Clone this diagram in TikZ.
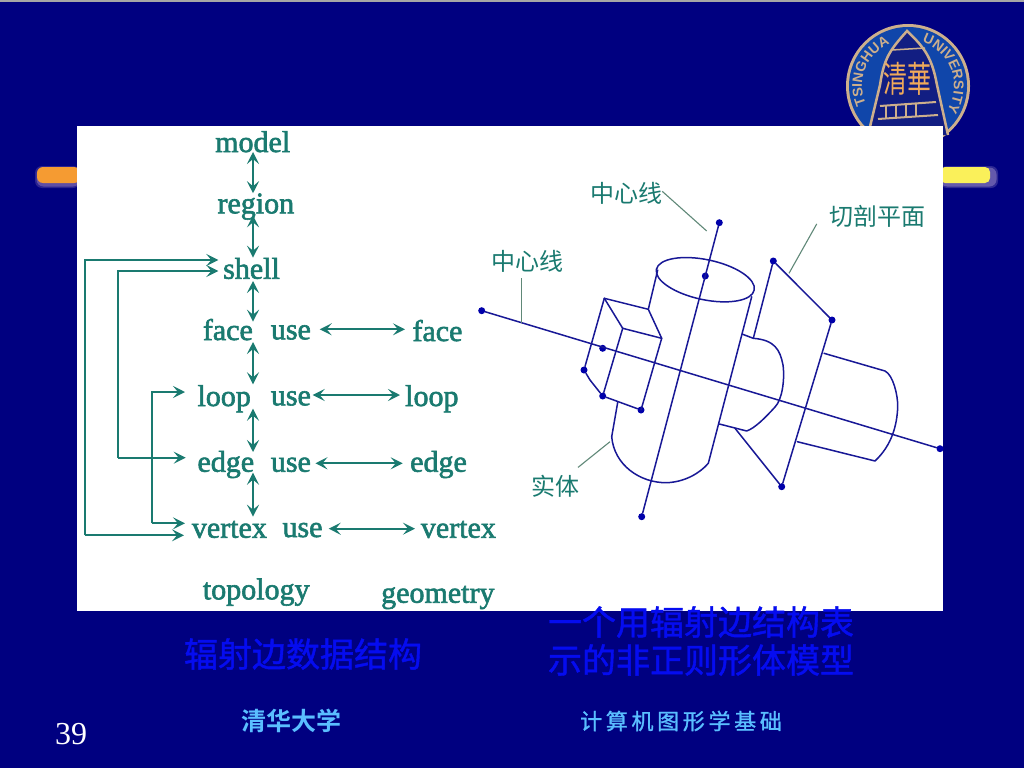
\documentclass[tikz,border=0pt]{standalone}
\usepackage{fontspec}
\usetikzlibrary{arrows.meta,calc,decorations.text}
\setmainfont{Liberation Serif}
\setsansfont{Liberation Sans}
\newfontfamily\lab[FakeBold=2]{Liberation Serif}
\newfontfamily\cjk{Noto Sans CJK SC}
\newfontfamily\cjkm[FakeBold=1.2]{Noto Sans CJK SC}
\newfontfamily\cjkb{Noto Sans CJK SC Bold}
\definecolor{navy}{RGB}{0,0,128}
\definecolor{teal1}{RGB}{26,122,112}
\definecolor{lead}{RGB}{96,136,120}
\definecolor{wire}{RGB}{24,24,150}
\definecolor{dotc}{RGB}{0,0,170}
\definecolor{capblue}{RGB}{5,12,240}
\definecolor{foot}{RGB}{90,190,255}
\definecolor{sealblue}{RGB}{16,70,170}
\definecolor{sealin}{RGB}{18,30,130}
\definecolor{sealtan}{RGB}{205,175,140}
\definecolor{sealor}{RGB}{240,170,90}
\tikzset{
 x=1pt,y=-1pt,
 word/.style={font=\fontsize{30}{30}\selectfont\lab,text=teal1,inner sep=0pt,anchor=base west},
 note/.style={font=\fontsize{24}{24}\selectfont\cjk,text=teal1,inner sep=0pt},
 captxt/.style={font=\fontsize{34}{34}\selectfont\cjkm,text=capblue,inner sep=0pt},
 dbl/.style={teal1,line width=1.9pt,{Stealth[length=12pt,width=12pt,inset=5pt]}-{Stealth[length=12pt,width=12pt,inset=5pt]}},
 one/.style={teal1,line width=1.9pt,-{Stealth[length=12pt,width=12pt,inset=5pt]}},
 wireline/.style={wire,line width=1.5pt,line cap=round,line join=round},
 leadline/.style={lead,line width=1.1pt},
 pin/.style={circle,fill=dotc,minimum size=7pt,inner sep=0pt},
 sealtext/.style={decorate,decoration={text along path,text align=center,text={|\fontsize{14}{14}\selectfont\sffamily\bfseries\color{sealtan}|#1}}},
}
\begin{document}
\begin{tikzpicture}
\useasboundingbox (0,0) rectangle (1024,768);
\fill[navy] (0,0) rectangle (1024,768);
\fill[gray!70] (0,0) rectangle (1024,2.5);
% bars
\foreach \o/\g in {0.2/0,0.3/-1.5}{
 \fill[rounded corners=7pt,fill=violet!30!white,opacity=\o] (35-\g,166-\g) rectangle (80,188+\g);
 \fill[rounded corners=7pt,fill=violet!20!white,opacity=\o] (940,166-\g) rectangle (998+\g,188+\g);
}
\fill[rounded corners=6pt,fill={rgb,255:red,245;green,155;blue,50}] (37,167) rectangle (80,183);
\fill[rounded corners=5pt,fill={rgb,255:red,250;green,240;blue,90}] (940,167) rectangle (990,183);
% seal
\fill[sealtan] (908,86) circle[radius=62];
\fill[sealblue] (908,86) circle[radius=59];
\begin{scope}[shift={(908,86)},y=1pt]
\path[postaction={sealtext=TSINGHUA}] (205:46) arc[start angle=205,end angle=112,radius=46];
\path[postaction={sealtext=UNIVERSITY}] (68:46) arc[start angle=68,end angle=-28,radius=46];
\end{scope}
\draw[sealtan,line width=2.5pt,fill=sealin] (868,135) -- (880,85) .. controls (884,58) and (890,50) .. (907,31) .. controls (925,48) and (932,58) .. (937,85) -- (948,135);
\node[inner sep=0pt,text=sealor,font=\fontsize{24}{24}\selectfont\cjk,yscale=1.5,transform shape] (seal) at (907,79) {清華};
\draw[sealtan,line width=2pt] (880,106) -- (936,102) (878,119) -- (938,115);
\draw[sealtan,line width=2pt] (886,106) -- (886,118) (896,105) -- (896,117) (906,105) -- (906,117) (916,104) -- (916,116);
\draw[sealtan,line width=1.5pt] (892,50) -- (925,48);
% white panel
\fill[white] (77,126) rectangle (943,611);
% left diagram
\node[word] (model) at (215,152) {model};
\node[word] (region) at (217.3,213.3) {region};
\node[word] (shell) at (223,278.7) {shell};
\node[word] (face) at (202.7,340) {face};
\node[word] (fuse) at (270.7,339.3) {use};
\node[word] (fgeo) at (412.3,341) {face};
\node[word] (loop) at (197.3,406) {loop};
\node[word] (luse) at (270.7,405.3) {use};
\node[word] (lgeo) at (405,406) {loop};
\node[word] (edge) at (197.3,471.7) {edge};
\node[word] (euse) at (270.7,471.7) {use};
\node[word] (egeo) at (410,471.7) {edge};
\node[word] (vertex) at (191.7,537.7) {vertex};
\node[word] (vuse) at (282.3,537) {use};
\node[word] (vgeo) at (420.7,537.7) {vertex};
\node[word] (topo) at (202.7,599.3) {topology};
\node[word] (geom) at (381,602.7) {geometry};
\coordinate (spine) at (253,0);
\draw[dbl] (model.base -| spine) -- (region.north -| spine);
\draw[dbl] ([shift={(0,2)}]region.base -| spine) -- ([shift={(0,-21)}]shell.base -| spine);
\draw[dbl] ([shift={(0,2.3)}]shell.base -| spine) -- ([shift={(0,-18.3)}]face.base -| spine);
\draw[dbl] ([shift={(0,2)}]face.base -| spine) -- ([shift={(0,-21.7)}]loop.base -| spine);
\draw[dbl] ([shift={(0,2.7)}]loop.base -| spine) -- ([shift={(0,-19.7)}]edge.base -| spine);
\draw[dbl] ([shift={(0,1)}]edge.base -| spine) -- ([shift={(0,-21)}]vertex.base -| spine);
\draw[dbl] ([shift={(8.6,-10)}]fuse.base east) -- ([shift={(-7.3,-11.7)}]fgeo.base west);
\draw[dbl] ([shift={(1.6,-10.3)}]luse.base east) -- ([shift={(-5,-11)}]lgeo.base west);
\draw[dbl] ([shift={(4.3,-8.4)}]euse.base east) -- ([shift={(-7.3,-8.4)}]egeo.base west);
\draw[dbl] ([shift={(6,-8.3)}]vuse.base east) -- ([shift={(-5.7,-9)}]vgeo.base west);
\coordinate (railA) at (85,0);
\coordinate (railB) at (117.7,0);
\coordinate (railC) at (151.7,0);
\coordinate (sA) at ([shift={(-4.7,-18.7)}]shell.base west);
\coordinate (sB) at ([shift={(-4.7,-7.7)}]shell.base west);
\coordinate (vA) at ([shift={(-7.7,-2.4)}]vertex.base west);
\coordinate (vC) at ([shift={(-6.7,-14.4)}]vertex.base west);
\coordinate (eB) at ([shift={(-11.6,-14)}]edge.base west);
\coordinate (lC) at ([shift={(-12.3,-14)}]loop.base west);
\draw[one] (railA |- vA) -- (vA);
\draw[one] (railA |- vA) -- (railA |- sA) -- (sA);
\draw[one] (railB |- eB) -- (eB);
\draw[one] (railB |- eB) -- (railB |- sB) -- (sB);
\draw[one] (railC |- vC) -- (vC);
\draw[one] (railC |- vC) -- (railC |- lC) -- (lC);
% right diagram: pins
\node[pin] (a1) at (481.7,310.7) {};
\node[pin] (a2) at (940,448.7) {};
\node[pin] (b1) at (719.3,222.7) {};
\node[pin] (b2) at (641.7,516.7) {};
\node[pin] (b3) at (705.3,276) {};
\node[pin] (c1) at (602.7,348.3) {};
\node[pin] (c2) at (584,370) {};
\node[pin] (c3) at (602.7,396) {};
\node[pin] (c4) at (641,410) {};
\node[pin] (d1) at (773.3,261) {};
\node[pin] (d2) at (832,320) {};
\node[pin] (d3) at (781.7,486.7) {};
\coordinate (c0) at (604.3,298.3);
\coordinate (c5) at (622.7,328.3);
\draw[wireline] (a1) -- (a2);
\draw[wireline] (b1) -- (b2);
% top ellipse
\draw[wireline] (705.3,279.7) ellipse[x radius=50,y radius=20,rotate=-12];
% cylinder
\draw[wireline] (657.7,270) -- (648.3,309.3) -- (661.7,338.3) -- (641,410);
\draw[wireline] (c0) -- (648.3,309.3);
\draw[wireline] (c0) -- (c2);
\draw[wireline] (c0) -- (c5);
\draw[wireline] (c5) -- (661.7,338.3);
\draw[wireline] (c5) -- (c3);
\draw[wireline] (c2) -- (590,380) -- (c3);
\draw[wireline] (c3) -- (c4);
\draw[wireline] (617.7,402.3) -- (611.7,436.7) .. controls (614,465) and (640,483) .. (666.7,482.7) .. controls (685,482) and (700,473) .. (708.3,463.3) -- (751.7,296.7);
% plane
\draw[wireline] (d1) -- (753.3,338.3);
\draw[wireline] (d1) -- (d2);
\draw[wireline] (d2) -- (d3);
\draw[wireline] (d3) -- (735,428.3);
% bump behind plane
\draw[wireline] (742.7,334.3) -- (753.3,338.3) .. controls (775,340) and (780,350) .. (783,365) .. controls (785,380) and (782,400) .. (775,407) .. controls (765,418) and (755,428) .. (746.7,431) -- (719.3,424);
% right bump
\draw[wireline] (824,353.3) -- (885,371) .. controls (893,375) and (898,395) .. (897.7,407) .. controls (897,425) and (892,445) .. (875,461) -- (797.3,441.7);
% leaders and notes
\node[note] (n1) at (626,193.3) {中心线};
\node[note] (n2) at (527,261) {中心线};
\node[note] (n3) at (877.3,216.7) {切剖平面};
\node[note] (n4) at (555,486.7) {实体};
\coordinate (l1) at (706.7,231);
\coordinate (l2) at (521.7,323);
\coordinate (l3) at (789,273.3);
\coordinate (l4) at (610,441.7);
\draw[leadline] (n1.east) ++(0,-2) -- (l1);
\draw[leadline] (n2.south) ++(-5.3,6) -- (l2);
\draw[leadline] ([shift={(-60.6,-4)}]n3.south) -- (l3);
\draw[leadline] ([shift={(23,-8)}]n4.north) -- (l4);
% captions
\node[captxt] (c1t) at (303,654) {辐射边数据结构};
\node[captxt] (c2t) at (701,622) {一个用辐射边结构表};
\node[captxt] (c3t) at (701,660) {示的非正则形体模型};
\node[inner sep=0pt,text=foot,font=\fontsize{25}{25}\selectfont\cjkb] (f1) at (291,721) {清华大学};
\node[inner sep=0pt,text=foot,font=\fontsize{22}{22}\selectfont\cjkm] (f2) at (681,721) {计\,算\,机\,图\,形\,学\,基\,础};
\node[inner sep=0pt,text=white,font=\fontsize{32}{32}\selectfont] (pg) at (71,734) {39};
\end{tikzpicture}
\end{document}
